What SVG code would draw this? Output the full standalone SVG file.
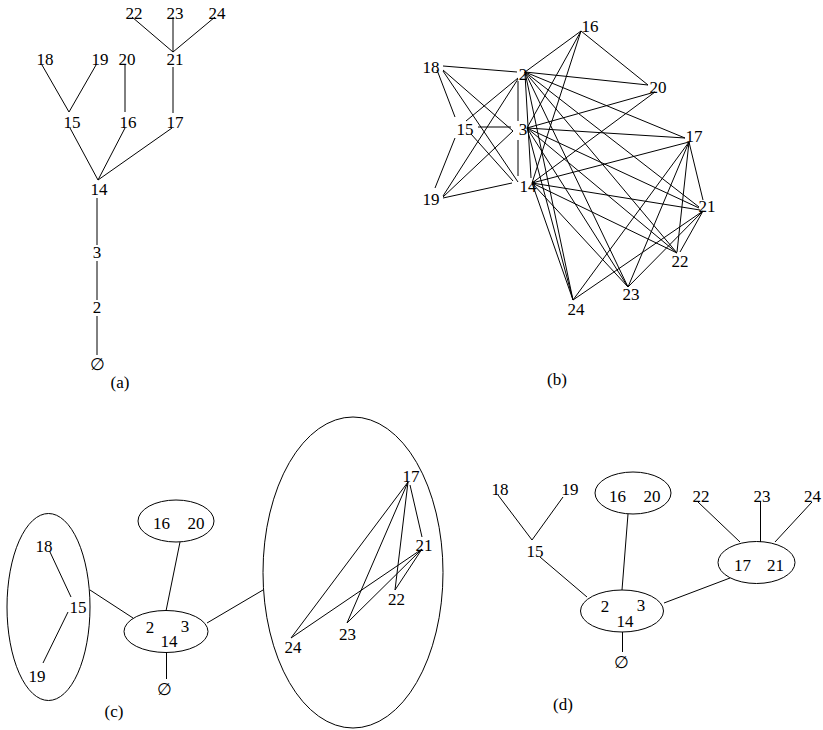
<svg xmlns="http://www.w3.org/2000/svg" width="823" height="730" viewBox="0 0 823 730">
<style>
  text { font-family: "Liberation Serif", "Times New Roman", "DejaVu Serif", serif; font-size: 17px; fill: #000; text-anchor: middle; }
  line { stroke: #000; stroke-width: 1; }
  ellipse { fill: none; stroke: #000; stroke-width: 1; }
</style>
<rect width="823" height="730" fill="#fff"/>

<!-- (a) tree -->
<g id="panel-a">
  <g id="edges-a">
    <line x1="132" y1="17" x2="173" y2="52"/>
    <line x1="173" y1="17" x2="173" y2="52"/>
    <line x1="215" y1="17" x2="173" y2="52"/>
    <line x1="42" y1="65" x2="69" y2="112"/>
    <line x1="96" y1="65" x2="69" y2="112"/>
    <line x1="125" y1="65" x2="125" y2="112"/>
    <line x1="173" y1="67" x2="173" y2="113"/>
    <line x1="70" y1="128" x2="98" y2="180"/>
    <line x1="125" y1="128" x2="98" y2="180"/>
    <line x1="172" y1="128" x2="98" y2="180"/>
    <line x1="97" y1="198" x2="97" y2="245"/>
    <line x1="97" y1="261" x2="97" y2="300"/>
    <line x1="97" y1="316" x2="97" y2="355"/>
  </g>
  <g id="a-n22"><text x="134" y="19">22</text></g>
  <g id="a-n23"><text x="175" y="19">23</text></g>
  <g id="a-n24"><text x="217" y="19">24</text></g>
  <g id="a-n18"><text x="45" y="65">18</text></g>
  <g id="a-n19"><text x="100" y="65">19</text></g>
  <g id="a-n20"><text x="127" y="65">20</text></g>
  <g id="a-n21"><text x="175" y="65">21</text></g>
  <g id="a-n15"><text x="72" y="128">15</text></g>
  <g id="a-n16"><text x="128" y="128">16</text></g>
  <g id="a-n17"><text x="175" y="128">17</text></g>
  <g id="a-n14"><text x="99" y="195">14</text></g>
  <g id="a-n3"><text x="97" y="258">3</text></g>
  <g id="a-n2"><text x="97" y="313">2</text></g>
  <g id="a-n0"><text x="97" y="370">∅</text></g>
  <text x="120" y="388">(a)</text>
</g>

<!-- (b) comparability graph -->
<g id="panel-b">
  <g id="edges-b">
    <line x1="518" y1="81" x2="518" y2="121"/>
    <line x1="525" y1="74" x2="531" y2="178"/>
    <line x1="518" y1="140" x2="518" y2="176"/>
    <line x1="466" y1="121" x2="518" y2="78"/>
    <line x1="443" y1="66" x2="517" y2="72"/>
    <line x1="443" y1="196" x2="518" y2="79"/>
    <line x1="525" y1="72" x2="581" y2="31"/>
    <line x1="525" y1="72" x2="648" y2="85"/>
    <line x1="525" y1="72" x2="685" y2="138"/>
    <line x1="525" y1="72" x2="699" y2="207"/>
    <line x1="525" y1="72" x2="677" y2="253"/>
    <line x1="525" y1="72" x2="628" y2="287"/>
    <line x1="525" y1="72" x2="573" y2="300"/>
    <line x1="478" y1="127" x2="511" y2="127"/>
    <line x1="443" y1="70" x2="513" y2="131"/>
    <line x1="443" y1="197" x2="513" y2="131"/>
    <line x1="581" y1="31" x2="527" y2="128"/>
    <line x1="527" y1="128" x2="655" y2="92"/>
    <line x1="527" y1="128" x2="685" y2="138"/>
    <line x1="527" y1="128" x2="699" y2="208"/>
    <line x1="527" y1="128" x2="677" y2="253"/>
    <line x1="527" y1="128" x2="628" y2="287"/>
    <line x1="527" y1="128" x2="573" y2="300"/>
    <line x1="471" y1="134" x2="513" y2="181"/>
    <line x1="443" y1="71" x2="518" y2="182"/>
    <line x1="443" y1="198" x2="512" y2="183"/>
    <line x1="581" y1="31" x2="532" y2="183"/>
    <line x1="532" y1="183" x2="655" y2="92"/>
    <line x1="532" y1="183" x2="689" y2="142"/>
    <line x1="532" y1="183" x2="700" y2="210"/>
    <line x1="532" y1="183" x2="677" y2="253"/>
    <line x1="532" y1="183" x2="628" y2="287"/>
    <line x1="532" y1="183" x2="573" y2="300"/>
    <line x1="437" y1="70" x2="455" y2="117"/>
    <line x1="435" y1="188" x2="455" y2="138"/>
    <line x1="581" y1="31" x2="648" y2="85"/>
    <line x1="689" y1="142" x2="703" y2="200"/>
    <line x1="689" y1="142" x2="677" y2="252"/>
    <line x1="689" y1="142" x2="628" y2="287"/>
    <line x1="689" y1="142" x2="573" y2="300"/>
    <line x1="703" y1="211" x2="680" y2="252"/>
    <line x1="703" y1="211" x2="628" y2="287"/>
    <line x1="703" y1="211" x2="573" y2="300"/>
  </g>
  <g id="b-n16"><text x="590" y="32">16</text></g>
  <g id="b-n18"><text x="431" y="73">18</text></g>
  <g id="b-n2"><text x="523" y="80">2</text></g>
  <g id="b-n20"><text x="658" y="93">20</text></g>
  <g id="b-n15"><text x="465" y="135">15</text></g>
  <g id="b-n3"><text x="523" y="135">3</text></g>
  <g id="b-n17"><text x="694" y="142">17</text></g>
  <g id="b-n14"><text x="528" y="192">14</text></g>
  <g id="b-n19"><text x="431" y="205">19</text></g>
  <g id="b-n21"><text x="707" y="212">21</text></g>
  <g id="b-n22"><text x="680" y="267">22</text></g>
  <g id="b-n23"><text x="631" y="300">23</text></g>
  <g id="b-n24"><text x="576" y="315">24</text></g>
  <text x="557" y="385">(b)</text>
</g>

<!-- (c) clustered graph -->
<g id="panel-c">
  <g id="edges-c">
    <line x1="50" y1="552" x2="71" y2="597"/>
    <line x1="68" y1="612" x2="43" y2="663"/>
    <line x1="90" y1="590" x2="133" y2="618"/>
    <line x1="166" y1="611" x2="180" y2="542"/>
    <line x1="207" y1="623" x2="263" y2="590"/>
    <line x1="166.5" y1="652" x2="166.5" y2="679"/>
    <line x1="408" y1="482" x2="291" y2="638"/>
    <line x1="408" y1="482" x2="347" y2="623"/>
    <line x1="408" y1="482" x2="395" y2="590"/>
    <line x1="410" y1="485" x2="422" y2="537"/>
    <line x1="422" y1="549" x2="291" y2="638"/>
    <line x1="422" y1="549" x2="347" y2="623"/>
    <line x1="422" y1="549" x2="395" y2="590"/>
  </g>
  <g id="c-cluster-left">
    <ellipse cx="48.5" cy="607" rx="41.5" ry="93.5"/>
    <text x="44" y="552">18</text>
    <text x="78" y="613">15</text>
    <text x="37" y="682">19</text>
  </g>
  <g id="c-cluster-16-20">
    <ellipse cx="176" cy="521" rx="38" ry="21"/>
    <text x="161.5" y="529">16</text>
    <text x="196" y="529">20</text>
  </g>
  <g id="c-cluster-root">
    <ellipse cx="166" cy="631.5" rx="42" ry="21"/>
    <text x="150" y="633">2</text>
    <text x="185" y="632">3</text>
    <text x="169" y="647">14</text>
  </g>
  <g id="c-n0"><text x="164" y="695">∅</text></g>
  <g id="c-cluster-right">
    <ellipse cx="353" cy="572.5" rx="90" ry="155.5"/>
    <text x="411" y="482">17</text>
    <text x="424" y="551">21</text>
    <text x="396.5" y="605">22</text>
    <text x="347.5" y="640">23</text>
    <text x="293" y="653">24</text>
  </g>
  <text x="114" y="717">(c)</text>
</g>

<!-- (d) quotient tree -->
<g id="panel-d">
  <g id="edges-d">
    <line x1="498" y1="495" x2="532" y2="540"/>
    <line x1="563" y1="497" x2="532" y2="540"/>
    <line x1="540" y1="557" x2="587" y2="597"/>
    <line x1="622" y1="590" x2="628" y2="514"/>
    <line x1="664" y1="603" x2="730" y2="578"/>
    <line x1="622.5" y1="632" x2="622.5" y2="652"/>
    <line x1="698" y1="502" x2="740" y2="542"/>
    <line x1="760.5" y1="502" x2="760.5" y2="542"/>
    <line x1="812" y1="502" x2="775" y2="542"/>
  </g>
  <g id="d-n18"><text x="500" y="495">18</text></g>
  <g id="d-n19"><text x="570" y="495">19</text></g>
  <g id="d-n15"><text x="535" y="557">15</text></g>
  <g id="d-cluster-16-20">
    <ellipse cx="633" cy="493" rx="38" ry="21"/>
    <text x="617.5" y="502">16</text>
    <text x="652" y="502">20</text>
  </g>
  <g id="d-n22"><text x="701" y="502">22</text></g>
  <g id="d-n23"><text x="762" y="502">23</text></g>
  <g id="d-n24"><text x="821" y="502" style="text-anchor:end">24</text></g>
  <g id="d-cluster-17-21">
    <ellipse cx="756.5" cy="562.5" rx="38.5" ry="21"/>
    <text x="742.5" y="571">17</text>
    <text x="775.5" y="571">21</text>
  </g>
  <g id="d-cluster-root">
    <ellipse cx="622" cy="611" rx="41.5" ry="21"/>
    <text x="605" y="612">2</text>
    <text x="641" y="611">3</text>
    <text x="625" y="627">14</text>
  </g>
  <g id="d-n0"><text x="621" y="668">∅</text></g>
  <text x="563" y="710">(d)</text>
</g>
</svg>
